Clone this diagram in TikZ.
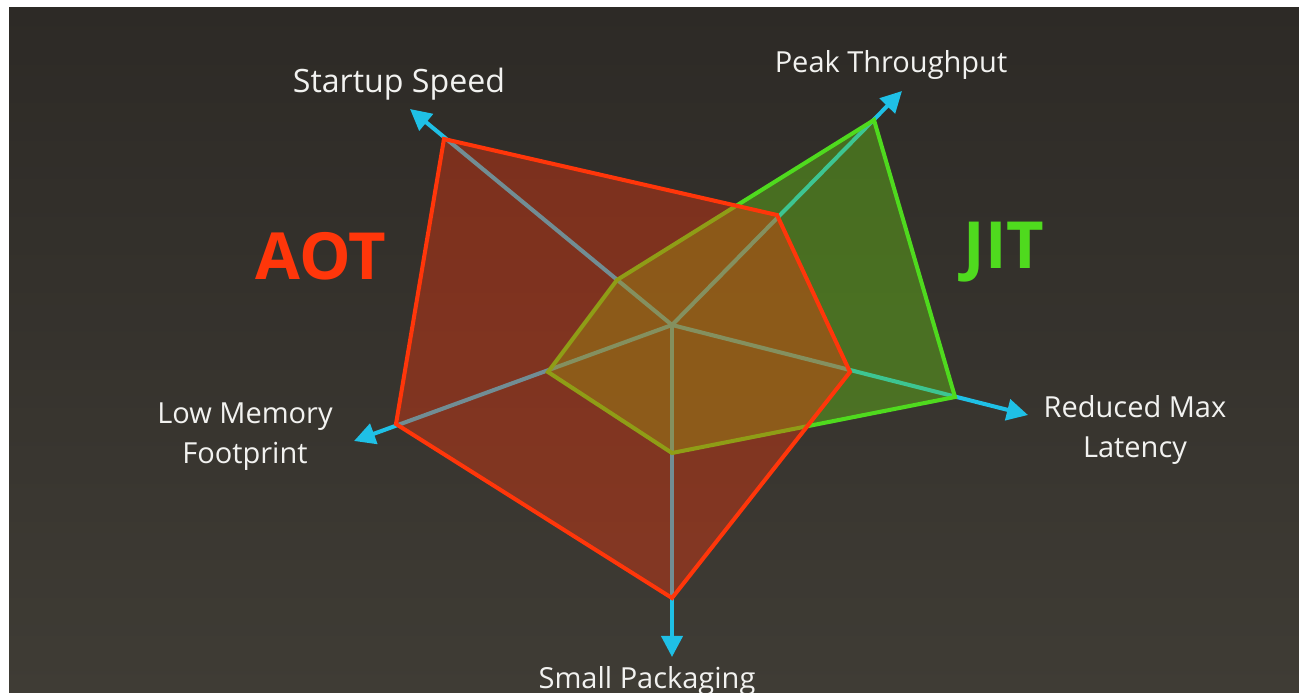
\documentclass[tikz,border=0pt]{standalone}
\usepackage{fontspec}
\setmainfont{Open Sans}
\usepackage{tikz}
\usetikzlibrary{arrows.meta}

\definecolor{bgtop}{HTML}{2D2A26}
\definecolor{bgbot}{HTML}{3F3C35}
\definecolor{axiscyan}{HTML}{1FC0E6}
\definecolor{aotred}{HTML}{FF360A}
\definecolor{jitgreen}{HTML}{4FDA1E}
\definecolor{jitfill}{HTML}{6ACD14}
\definecolor{labelwhite}{HTML}{F2F2F0}

\begin{document}
\begin{tikzpicture}[x=0.02cm,y=-0.02cm,
    axis/.style={draw=axiscyan,line width=2.3pt,-{Triangle[length=12pt,width=12pt,fill=axiscyan]}},
    aotarea/.style={draw=aotred,fill=aotred,fill opacity=0.37,line width=2.3pt,line join=miter},
    jitarea/.style={draw=jitgreen,fill=jitfill,fill opacity=0.4,line width=2.3pt,line join=miter},
    lbl/.style={text=labelwhite,font=\fontsize{16.5}{22.7}\selectfont,align=center},
    tag/.style={font=\fontsize{37}{40}\selectfont\bfseries}]
  \useasboundingbox (0,0) rectangle (1299,693);
  \fill[white] (0,0) rectangle (1299,693);
  \shade[top color=bgtop,bottom color=bgbot] (9,7) rectangle (1299,693);

  \coordinate (o) at (672,325);
  \coordinate (startup) at (410,109);
  \coordinate (peak) at (902,91);
  \coordinate (latency) at (1028,415);
  \coordinate (packaging) at (672,657);
  \coordinate (memory) at (354,441);

  \draw[axis] (o) -- (startup);
  \draw[axis] (o) -- (peak);
  \draw[axis] (o) -- (latency);
  \draw[axis] (o) -- (packaging);
  \draw[axis] (o) -- (memory);

  \coordinate (jit-s) at (617,280);
  \coordinate (jit-p) at (874,120);
  \coordinate (jit-l) at (955,397);
  \coordinate (jit-k) at (672,453);
  \coordinate (jit-m) at (548,372);
  \filldraw[jitarea] (jit-s) -- (jit-p) -- (jit-l) -- (jit-k) -- (jit-m) -- cycle;

  \coordinate (aot-s) at (444,139);
  \coordinate (aot-p) at (777,215);
  \coordinate (aot-l) at (850,372);
  \coordinate (aot-k) at (672,598);
  \coordinate (aot-m) at (396,424);
  \filldraw[aotarea] (aot-s) -- (aot-p) -- (aot-l) -- (aot-k) -- (aot-m) -- cycle;

  \draw (399,92) node[lbl,anchor=base,font=\fontsize{18.3}{22.7}\selectfont] (startuplbl) {Startup Speed};
  \draw (891,72) node[lbl,anchor=base] (peaklbl) {Peak Throughput};
  \draw (1135,430) node[lbl] (latencylbl) {Reduced Max\\Latency};
  \draw (647,688) node[lbl,anchor=base] (packaginglbl) {Small Packaging};
  \draw (245,437) node[lbl] (memorylbl) {Low Memory\\Footprint};

  \draw (321,256) node[tag,text=aotred] (aot) {AOT};
  \draw (1004,252) node[tag,text=jitgreen] (jit) {JIT};
\end{tikzpicture}
\end{document}
